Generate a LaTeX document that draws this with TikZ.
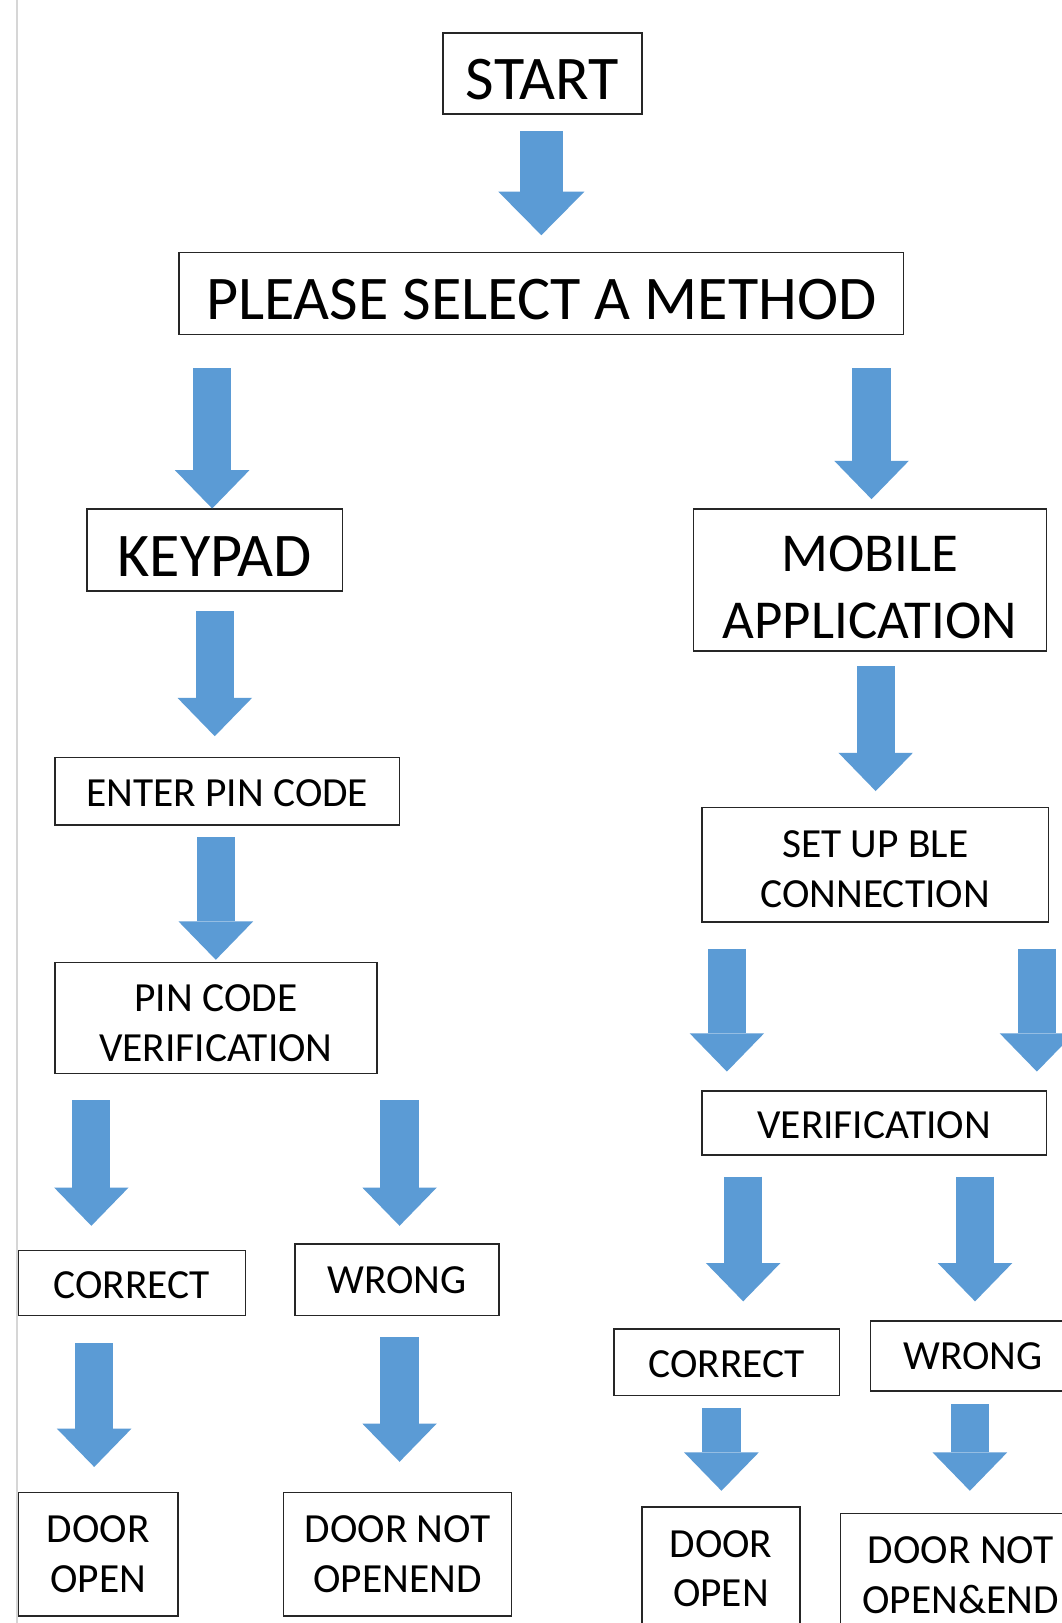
\documentclass[tikz,border=0pt]{standalone}
\usepackage{fontspec}
\setmainfont{Carlito}
\usetikzlibrary{arrows.meta, calc}
\definecolor{arrowblue}{RGB}{91,155,213}
\definecolor{pagegray}{RGB}{214,214,214}

\begin{document}
\begin{tikzpicture}[x=1pt, y=-1pt,
  box/.style={draw=black!85, line width=1.5pt, align=center, inner sep=0pt},
  bigtxt/.style={font=\fontsize{60}{72}\selectfont},
  midtxt/.style={font=\fontsize{53}{65}\selectfont},
  smalltxt/.style={font=\fontsize{40}{48}\selectfont},
  textdrop/.style={execute at begin node={\rule{0pt}{#1}}},
  flow/.style={draw=arrowblue, line width=37pt,
    -{Triangle[length=37pt, width=72pt, line width=0pt]}}]
  % Page
  \useasboundingbox (0,0) rectangle (1026,1568);
  \clip (0,0) rectangle (1026,1568);
  \fill[white] (0,0) rectangle (1026,1568);
  \draw[pagegray, line width=2pt] (16,0) -- (16,1568);

  % Top
  \node[box, bigtxt, textdrop=50.6pt, minimum width=192pt, minimum height=78pt] (start) at (524,71) {START};
  \node[box, bigtxt, textdrop=50.6pt, minimum width=700pt, minimum height=79pt] (method) at (523,283.5) {PLEASE SELECT A METHOD};

  % Keypad branch
  \node[box, bigtxt, textdrop=51.6pt, minimum width=247pt, minimum height=79pt] (keypad) at (207.5,531.5) {KEYPAD};
  \node[box, smalltxt, textdrop=30pt, minimum width=333pt, minimum height=65pt] (enter) at (219.5,764.5) {ENTER PIN CODE};
  \node[box, smalltxt, textdrop=83.8pt, minimum width=311pt, minimum height=107pt] (pinver) at (208.5,983.5) {PIN CODE\\VERIFICATION};
  \node[box, smalltxt, textdrop=31pt, minimum width=219pt, minimum height=63pt] (corrL) at (127.5,1239.5) {CORRECT};
  \node[box, smalltxt, minimum width=197pt, minimum height=69pt] (wrongL) at (383.5,1236.5) {WRONG};
  \node[box, smalltxt, minimum width=154pt, minimum height=119pt] (openL) at (95,1501.5) {DOOR\\OPEN};
  \node[box, smalltxt, minimum width=220pt, minimum height=119pt] (notL) at (384,1501.5) {DOOR NOT\\OPENEND};

  % Mobile branch
  \node[box, midtxt, textdrop=113pt, minimum width=341pt, minimum height=137pt] (mobile) at (840.5,560.5) {MOBILE\\APPLICATION};
  \node[box, smalltxt, textdrop=81.8pt, minimum width=335pt, minimum height=111pt] (ble) at (845.5,835.5) {SET UP BLE\\CONNECTION};
  \node[box, smalltxt, textdrop=30pt, minimum width=333pt, minimum height=62pt] (ver) at (844.5,1085) {VERIFICATION};
  \node[box, smalltxt, textdrop=30pt, minimum width=218pt, minimum height=64pt] (corrR) at (702,1316) {CORRECT};
  \node[box, smalltxt, minimum width=198pt, minimum height=68pt] (wrongR) at (940,1310) {WRONG};
  \node[box, smalltxt, minimum width=153pt, minimum height=119pt] (openR) at (696.5,1515.5) {DOOR\\OPEN};
  \node[box, smalltxt, minimum width=232pt, minimum height=119pt] (notR) at (928,1521.5) {DOOR NOT\\OPEN\&END};

  % Arrows
  \draw[flow, line width=42pt, -{Triangle[length=42pt, width=83pt, line width=0pt]}]
    ($(start.south)+(-1,16)$) -- ($(start.south |- method.north)+(-1,-16)$);
  \draw[flow] ($(method.south -| keypad.north)+(-2.5,32)$) -- ($(keypad.north)+(-2.5,0)$);
  \draw[flow] ($(method.south -| mobile.north)+(1.5,32)$) -- ($(mobile.north)+(1.5,-9)$);
  \draw[flow] ($(keypad.south)+(0,19)$) -- ($(keypad.south |- enter.north)+(0,-20)$);
  \draw[flow] ($(enter.south -| pinver.north)+(0,11)$) -- ($(pinver.north)+(0,-2)$);
  \draw[flow] ($(pinver.south west)+(36,25)$) -- ($(pinver.south west |- corrL.north)+(36,-23)$);
  \draw[flow] ($(pinver.south -| wrongL.north)+(2.5,25)$) -- ($(wrongL.north)+(2.5,-17)$);
  \draw[flow] ($(corrL.south -| openL.north)+(-4,26)$) -- ($(openL.north)+(-4,-24)$);
  \draw[flow] ($(wrongL.south -| notL.north)+(2,20)$) -- ($(notL.north)+(2,-29)$);
  \draw[flow] ($(mobile.south -| ble.north)+(0.5,14)$) -- ($(ble.north)+(0.5,-15)$);
  \draw[flow] ($(ble.south -| ver.north west)+(25,25)$) -- ($(ver.north west)+(25,-18)$);
  \draw[flow] ($(ble.south -| ver.north east)+(-10,25)$) -- ($(ver.north east)+(-10,-18)$);
  \draw[flow] ($(ver.south -| corrR.north)+(16,20)$) -- ($(corrR.north)+(16,-26)$);
  \draw[flow] ($(ver.south -| wrongR.north)+(2,20)$) -- ($(wrongR.north)+(2,-18)$);
  \draw[flow] ($(corrR.south -| openR.north)+(0.5,12)$) -- ($(openR.north)+(0.5,-15)$);
  \draw[flow] ($(wrongR.south)+(-3,12)$) -- ($(wrongR.south |- notR.north)+(-3,-21)$);
\end{tikzpicture}
\end{document}
